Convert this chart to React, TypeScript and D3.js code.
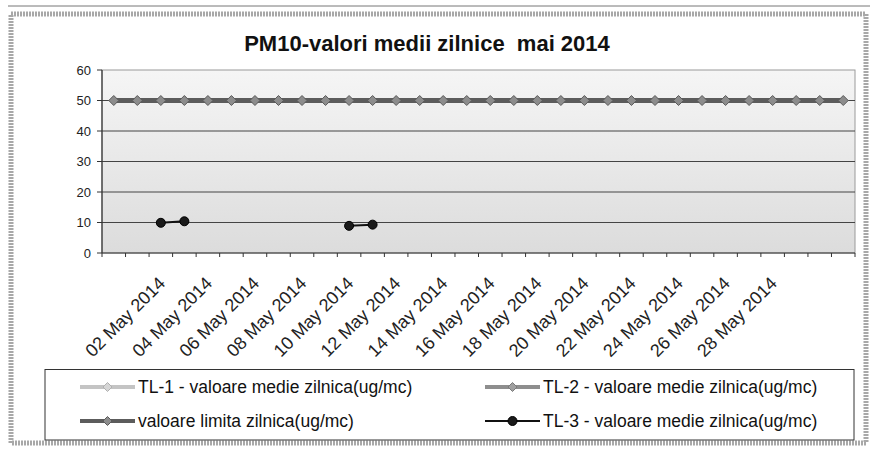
import React from "react";
import * as d3 from "d3";

const title = "PM10-valori medii zilnice  mai 2014";

const categories = [
  "30 Apr 2014", "01 May 2014", "02 May 2014", "03 May 2014", "04 May 2014", "05 May 2014",
  "06 May 2014", "07 May 2014", "08 May 2014", "09 May 2014", "10 May 2014", "11 May 2014",
  "12 May 2014", "13 May 2014", "14 May 2014", "15 May 2014", "16 May 2014", "17 May 2014",
  "18 May 2014", "19 May 2014", "20 May 2014", "21 May 2014", "22 May 2014", "23 May 2014",
  "24 May 2014", "25 May 2014", "26 May 2014", "27 May 2014", "28 May 2014", "29 May 2014",
  "30 May 2014", "31 May 2014",
];

const tickLabels = [
  "02 May 2014", "04 May 2014", "06 May 2014", "08 May 2014", "10 May 2014", "12 May 2014",
  "14 May 2014", "16 May 2014", "18 May 2014", "20 May 2014", "22 May 2014", "24 May 2014",
  "26 May 2014", "28 May 2014",
];

const yTicks = [0, 10, 20, 30, 40, 50, 60];

const tl1: (number | null)[] = [
  null, null, null, null, null, null, null, null, null, null, null, null, null, null, null, null,
  null, null, null, null, null, null, null, null, null, null, null, null, null, null, null, null,
];
const tl2: (number | null)[] = [
  null, null, null, null, null, null, null, null, null, null, null, null, null, null, null, null,
  null, null, null, null, null, null, null, null, null, null, null, null, null, null, null, null,
];
const limit: (number | null)[] = [
  50, 50, 50, 50, 50, 50, 50, 50, 50, 50, 50, 50, 50, 50, 50, 50,
  50, 50, 50, 50, 50, 50, 50, 50, 50, 50, 50, 50, 50, 50, 50, 50,
];
const tl3: (number | null)[] = [
  null, null, 9.9, 10.4, null, null, null, null, null, null, 8.9, 9.3, null, null, null, null,
  null, null, null, null, null, null, null, null, null, null, null, null, null, null, null, null,
];

const seriesNames = [
  "TL-1 - valoare medie zilnica(ug/mc)",
  "TL-2 - valoare medie zilnica(ug/mc)",
  "valoare limita zilnica(ug/mc)",
  "TL-3 - valoare medie zilnica(ug/mc)",
];

const W = 875;
const H = 450;
const plot = { left: 102, right: 855, top: 70, bottom: 253 };
const FONT = "'Liberation Sans', Arial, Helvetica, sans-serif";

type Style = {
  color: string;
  width: number;
  marker: "diamond" | "circle";
  markerFill: string;
  markerStroke: string;
  size: number;
};

const styles: Style[] = [
  { color: "#c4c4c4", width: 4, marker: "diamond", markerFill: "#d6d6d6", markerStroke: "#b0b0b0", size: 4.5 },
  { color: "#8e8e8e", width: 4, marker: "diamond", markerFill: "#a0a0a0", markerStroke: "#7a7a7a", size: 4.5 },
  { color: "#5c5c5c", width: 5, marker: "diamond", markerFill: "#8c8c8c", markerStroke: "#5a5a5a", size: 5 },
  { color: "#111111", width: 2, marker: "circle", markerFill: "#1a1a1a", markerStroke: "#000", size: 4.5 },
];

function Marker({ x, y, s }: { x: number; y: number; s: Style }) {
  if (s.marker === "circle") {
    return <circle cx={x} cy={y} r={s.size} fill={s.markerFill} stroke={s.markerStroke} strokeWidth={1} />;
  }
  const r = s.size;
  return (
    <path
      d={`M${x},${y - r}L${x + r},${y}L${x},${y + r}L${x - r},${y}Z`}
      fill={s.markerFill}
      stroke={s.markerStroke}
      strokeWidth={1}
    />
  );
}

export default function App() {
  const x = d3.scaleBand<string>().domain(categories).range([plot.left, plot.right]).paddingInner(0).paddingOuter(0);
  const y = d3.scaleLinear().domain([0, 60]).range([plot.bottom, plot.top]);
  const cx = (c: string) => (x(c) ?? 0) + x.bandwidth() / 2;

  const allSeries = [tl1, tl2, limit, tl3];

  const line = d3
    .line<number | null>()
    .defined((d) => d != null)
    .x((_, i) => cx(categories[i]))
    .y((d) => y(d as number));

  const legendCols = [80, 485];
  const legendRows = [387, 421];
  const symLen = 55;

  return (
    <svg
      width={W}
      height={H}
      viewBox={`0 0 ${W} ${H}`}
      style={{ position: "absolute", left: 0, top: 0, background: "#fff" }}
    >
      <defs>
        <linearGradient id="plotbg" x1="0" y1="0" x2="0" y2="1">
          <stop offset="0" stopColor="#f5f5f5" />
          <stop offset="1" stopColor="#dcdcdc" />
        </linearGradient>
      </defs>

      {/* outer frame */}
      <line x1={8} x2={870} y1={6} y2={6} stroke="#777" strokeWidth={1} />
      <rect x={11} y={14} width={855} height={429} fill="#fff" stroke="#a8a8a8" strokeWidth={5} strokeDasharray="2 1" />

      {/* title */}
      <text
        x={427}
        y={51}
        textAnchor="middle"
        fontFamily={FONT}
        fontWeight="bold"
        fontSize={22}
        fill="#111"
        style={{ whiteSpace: "pre" }}
      >
        {title}
      </text>

      {/* plot area */}
      <rect
        x={plot.left}
        y={plot.top}
        width={plot.right - plot.left}
        height={plot.bottom - plot.top}
        fill="url(#plotbg)"
        stroke="#9a9a9a"
        strokeWidth={1}
      />

      {/* gridlines */}
      {yTicks
        .filter((t) => t > 0 && t < 60)
        .map((t) => (
          <line key={t} x1={plot.left} x2={plot.right} y1={y(t)} y2={y(t)} stroke="#444" strokeWidth={1} />
        ))}

      {/* y axis */}
      <line x1={plot.left} x2={plot.left} y1={plot.top} y2={plot.bottom} stroke="#333" strokeWidth={1.2} />
      {yTicks.map((t) => (
        <g key={t}>
          <line x1={plot.left - 5} x2={plot.left} y1={y(t)} y2={y(t)} stroke="#333" />
          <text
            x={plot.left - 11}
            y={y(t)}
            dy="0.35em"
            textAnchor="end"
            fontFamily={FONT}
            fontSize={13}
            fill="#222"
          >
            {t}
          </text>
        </g>
      ))}

      {/* x axis */}
      <line x1={plot.left} x2={plot.right} y1={plot.bottom} y2={plot.bottom} stroke="#333" strokeWidth={1.2} />
      {categories.map((c) => (
        <line key={c} x1={x(c) ?? 0} x2={x(c) ?? 0} y1={plot.bottom} y2={plot.bottom + 4} stroke="#333" />
      ))}
      <line x1={plot.right} x2={plot.right} y1={plot.bottom} y2={plot.bottom + 4} stroke="#333" />
      {tickLabels.map((lab) => (
        <text
          key={lab}
          transform={`translate(${cx(lab) + 1},${plot.bottom + 27}) rotate(-45)`}
          dy="0.35em"
          textAnchor="end"
          fontFamily={FONT}
          fontSize={18}
          fill="#222"
        >
          {lab}
        </text>
      ))}

      {/* series */}
      {allSeries.map((data, si) => {
        const s = styles[si];
        return (
          <g key={si}>
            <path d={line(data) ?? ""} fill="none" stroke={s.color} strokeWidth={s.width} />
            {data.map((v, i) =>
              v == null ? null : <Marker key={i} x={cx(categories[i])} y={y(v)} s={s} />
            )}
          </g>
        );
      })}

      {/* legend */}
      <rect x={45} y={369.5} width={809} height={70.5} fill="#fff" stroke="#333" strokeWidth={1} />
      {seriesNames.map((name, i) => {
        const col = i % 2;
        const row = Math.floor(i / 2);
        const lx = legendCols[col];
        const ly = legendRows[row];
        const s = styles[i];
        return (
          <g key={name}>
            <line x1={lx} x2={lx + symLen} y1={ly} y2={ly} stroke={s.color} strokeWidth={s.width === 2 ? 2 : 4} />
            <Marker x={lx + symLen / 2} y={ly} s={{ ...s, size: 4.5 }} />
            <text x={lx + symLen + 3} y={ly} dy="0.35em" fontFamily={FONT} fontSize={17.5} fill="#111">
              {name}
            </text>
          </g>
        );
      })}
    </svg>
  );
}
